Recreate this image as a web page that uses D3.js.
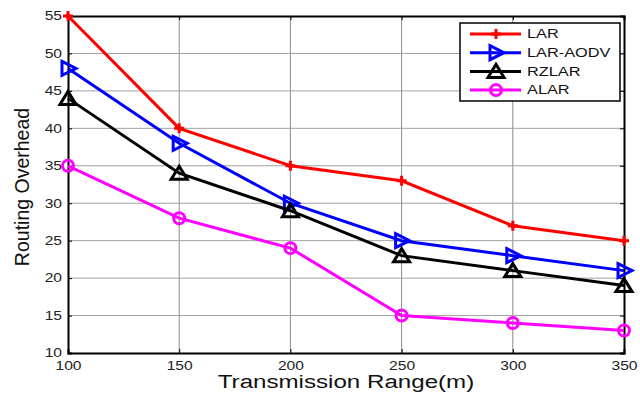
<!DOCTYPE html>
<html>
<head>
<meta charset="utf-8">
<script src="https://cdn.jsdelivr.net/npm/d3@7"></script>
<style>
  body { margin: 0; background: #fff; }
  svg { font-family: "Liberation Sans", Arial, sans-serif; }
</style>
</head>
<body>
<div id="chart"></div>
<script>
// Data
var ranges = [100, 150, 200, 250, 300, 350];
var lar = [55, 40, 35, 33, 27, 25];
var larAodv = [48, 38, 30, 25, 23, 21];
var rzlar = [44, 34, 29, 23, 21, 19];
var alar = [35, 28, 24, 15, 14, 13];
var yTicks = [10, 15, 20, 25, 30, 35, 40, 45, 50, 55];

var series = [
  { name: "LAR", values: lar, color: "#ff0000", marker: "plus" },
  { name: "LAR-AODV", values: larAodv, color: "#0000ff", marker: "right" },
  { name: "RZLAR", values: rzlar, color: "#000000", marker: "up" },
  { name: "ALAR", values: alar, color: "#ff00ff", marker: "circle" }
];

// Parameters
var width = 640, height = 396,
    margin = { left: 68, right: 16, top: 16, bottom: 43 },
    stretch = 1.3;   // the text in the picture is drawn wide

var svg = d3.select("#chart").append("svg")
    .attr("width", width)
    .attr("height", height);

var x = d3.scaleLinear().domain([100, 350]).range([margin.left, width - margin.right]);
var y = d3.scaleLinear().domain([10, 55]).range([height - margin.bottom, margin.top]);

// widen a text horizontally
function widen(sel, k) {
  sel.each(function() {
    var w = this.getComputedTextLength();
    d3.select(this).attr("textLength", w * k).attr("lengthAdjust", "spacingAndGlyphs");
  });
}

// Grid
var grid = svg.append("g").attr("class", "grid");
grid.selectAll("line.gx")
  .data(ranges.slice(1, -1))
  .enter().append("line")
    .attr("x1", function(d) { return x(d); })
    .attr("x2", function(d) { return x(d); })
    .attr("y1", y(10))
    .attr("y2", y(55))
    .style("stroke", "#8a8a8a")
    .style("stroke-width", 1);
grid.selectAll("line.gy")
  .data(yTicks.slice(1, -1))
  .enter().append("line")
    .attr("y1", function(d) { return y(d); })
    .attr("y2", function(d) { return y(d); })
    .attr("x1", x(100))
    .attr("x2", x(350))
    .style("stroke", "#a0a0a0")
    .style("stroke-width", 1);

// Axes (ticks inward, like matlab)
var xAxis = svg.append("g")
    .attr("transform", "translate(0," + y(10) + ")")
    .call(d3.axisBottom(x).tickValues(ranges).tickSize(-4).tickPadding(8));
var yAxis = svg.append("g")
    .attr("transform", "translate(" + x(100) + ",0)")
    .call(d3.axisLeft(y).tickValues(yTicks).tickSize(-4).tickPadding(6));
var xTop = svg.append("g")
    .attr("transform", "translate(0," + y(55) + ")")
    .call(d3.axisTop(x).tickValues(ranges).tickSize(-4).tickFormat(""));
var yRight = svg.append("g")
    .attr("transform", "translate(" + x(350) + ",0)")
    .call(d3.axisRight(y).tickValues(yTicks).tickSize(-4).tickFormat(""));

[xAxis, yAxis, xTop, yRight].forEach(function(a) {
  a.select(".domain").style("stroke", "#000").style("stroke-width", 2);
  a.selectAll(".tick line").style("stroke", "#000");
  a.selectAll("text").style("font-size", "12px").style("fill", "#222")
    .style("font-family", "Liberation Sans, Arial, sans-serif")
    .call(widen, stretch);
});

// Markers
function drawMarker(g, type, color) {
  if (type === "plus") {
    g.append("path").attr("d", "M-5,0H5M0,-5V5")
      .style("stroke", color).style("stroke-width", 3).style("fill", "none");
    g.append("circle").attr("r", 2.5).style("fill", color);
  } else if (type === "right") {
    g.append("path").attr("d", "M-6,-7L8,0L-6,7Z")
      .style("stroke", color).style("stroke-width", 3).style("fill", "none");
  } else if (type === "up") {
    g.append("path").attr("d", "M0,-7L8,6L-8,6Z")
      .style("stroke", color).style("stroke-width", 3).style("fill", "none");
  } else {
    g.append("circle").attr("r", 5.5)
      .style("stroke", color).style("stroke-width", 3).style("fill", "none");
  }
}

var line = d3.line()
    .x(function(d, i) { return x(ranges[i]); })
    .y(function(d) { return y(d); });

series.forEach(function(s) {
  svg.append("path")
    .datum(s.values)
    .attr("d", line)
    .style("fill", "none")
    .style("stroke", s.color)
    .style("stroke-width", 3);
  s.values.forEach(function(v, i) {
    var g = svg.append("g").attr("transform", "translate(" + x(ranges[i]) + "," + y(v) + ")");
    drawMarker(g, s.marker, s.color);
  });
});

// Legend
var legend = svg.append("g").attr("class", "legend");
legend.append("rect")
    .attr("x", 460).attr("y", 23)
    .attr("width", 160).attr("height", 78)
    .style("fill", "#fff")
    .style("stroke", "#000")
    .style("stroke-width", 1.5);
series.forEach(function(s, i) {
  var ly = 34 + i * 18.7;
  legend.append("line")
    .attr("x1", 470).attr("x2", 521)
    .attr("y1", ly).attr("y2", ly)
    .style("stroke", s.color).style("stroke-width", 3);
  var g = legend.append("g").attr("transform", "translate(496," + ly + ")");
  drawMarker(g, s.marker, s.color);
  legend.append("text")
    .attr("x", 527).attr("y", ly)
    .attr("dy", "0.35em")
    .text(s.name)
    .style("font-size", "12px")
    .style("fill", "#111")
    .call(widen, 1.36);
});

// Axis labels
svg.append("text")
    .attr("x", (x(100) + x(350)) / 2)
    .attr("y", 388)
    .attr("text-anchor", "middle")
    .text("Transmission Range(m)")
    .style("font-size", "18px")
    .style("fill", "#111")
    .call(widen, 1.34);

svg.append("text")
    .attr("transform", "translate(29,187) rotate(-90)")
    .attr("text-anchor", "middle")
    .text("Routing Overhead")
    .style("font-size", "19.5px")
    .style("fill", "#111");
</script>
</body>
</html>
